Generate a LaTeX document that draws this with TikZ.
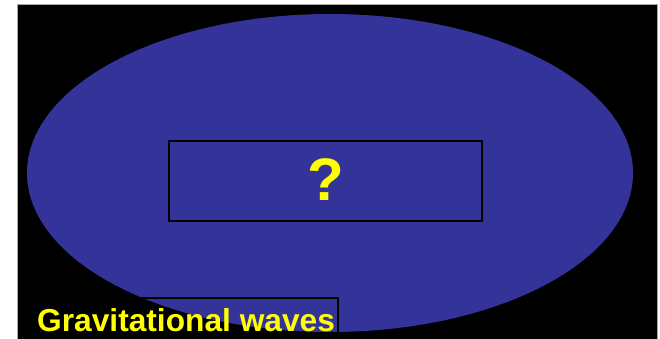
\documentclass[tikz,border=0pt]{standalone}
\usepackage{fontspec}
\setmainfont{Liberation Sans}
\definecolor{ellblue}{HTML}{333399}
\definecolor{txtyellow}{HTML}{FFFF00}
\begin{document}
\begin{tikzpicture}[x=1pt,y=-1pt,
  lbl/.style={text=txtyellow,font=\bfseries,inner sep=0pt},
  frame/.style={draw=black,line width=2.5pt}]
\useasboundingbox (0,0) rectangle (660,339);
\clip (0,0) rectangle (660,339);
\fill[white] (0,0) rectangle (660,339);
\fill[black,draw=gray!70,line width=1pt] (17,5) rectangle (657,345);
\fill[ellblue] (330,173) ellipse [x radius=303, y radius=159];
\node[frame,minimum width=313pt,minimum height=80pt,inner sep=0pt] (box) at (325.5,181) {};
\node[lbl,font=\bfseries\fontsize{60}{60}\selectfont] (q) at ([yshift=1pt]box.center) {?};
\draw[frame] (100,345) -- (100,298) -- (338,298) -- (338,345);
\node[lbl,font=\bfseries\fontsize{31.7}{32}\selectfont,anchor=base west] (gw) at (37,331) {Gravitational waves};
\end{tikzpicture}
\end{document}
